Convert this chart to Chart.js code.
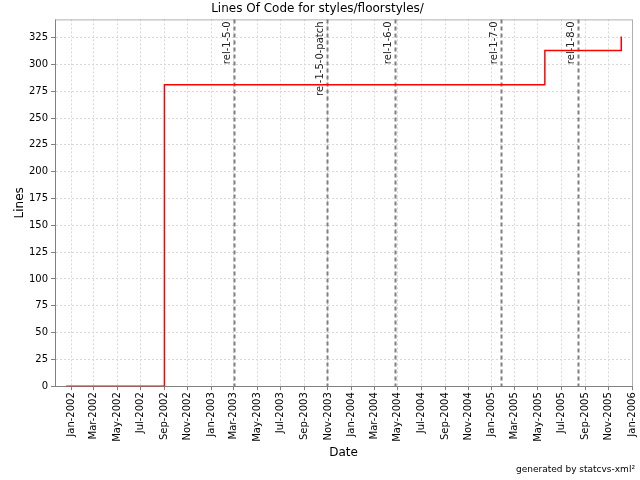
<!DOCTYPE html>
<html>
<head>
<meta charset="utf-8">
<script src="https://cdn.jsdelivr.net/npm/chart.js@4.4.0/dist/chart.umd.min.js"></script>
<style>
  html, body { margin: 0; padding: 0; background: #fff; }
  #wrap { width: 640px; height: 480px; }
</style>
</head>
<body>
<div id="wrap"><canvas id="chartLoc"></canvas></div>
<script>
// Datos de la serie (fecha, líneas)
const locDates = ['2001-12-19', '2002-09-01', '2005-05-19', '2005-12-04'];
const locValues = [0, 281, 313, 326];

// Versiones (líneas verticales)
const releaseNames = ['rel-1-5-0', 'rel-1-5-0-patch', 'rel-1-6-0', 'rel-1-7-0', 'rel-1-8-0'];
const releaseDates = ['2003-02-28', '2003-10-29', '2004-04-23', '2005-01-25', '2005-08-14'];

// Etiquetas del eje X
const tickDates = ['2002-01-01', '2002-03-01', '2002-05-01', '2002-07-01', '2002-09-01', '2002-11-01',
    '2003-01-01', '2003-03-01', '2003-05-01', '2003-07-01', '2003-09-01', '2003-11-01',
    '2004-01-01', '2004-03-01', '2004-05-01', '2004-07-01', '2004-09-01', '2004-11-01',
    '2005-01-01', '2005-03-01', '2005-05-01', '2005-07-01', '2005-09-01', '2005-11-01',
    '2006-01-01'];
const tickLabels = ['Jan-2002', 'Mar-2002', 'May-2002', 'Jul-2002', 'Sep-2002', 'Nov-2002',
    'Jan-2003', 'Mar-2003', 'May-2003', 'Jul-2003', 'Sep-2003', 'Nov-2003',
    'Jan-2004', 'Mar-2004', 'May-2004', 'Jul-2004', 'Sep-2004', 'Nov-2004',
    'Jan-2005', 'Mar-2005', 'May-2005', 'Jul-2005', 'Sep-2005', 'Nov-2005',
    'Jan-2006'];

const FONT = '"DejaVu Sans", sans-serif';

function toDay(s) {
    const p = s.split('-').map(Number);
    return Date.UTC(p[0], p[1] - 1, p[2]) / 864e5;
}

// Dibuja las líneas de versión y el borde del área
const releasesPlugin = {
    id: 'releases',
    beforeDatasetsDraw(chart) {
        const { ctx, chartArea, scales } = chart;
        ctx.save();
        ctx.strokeStyle = '#b0b0b0';
        ctx.lineWidth = 1;
        ctx.beginPath();
        ctx.moveTo(chartArea.left, chartArea.top + 0.5);
        ctx.lineTo(chartArea.right + 0.5, chartArea.top + 0.5);
        ctx.lineTo(chartArea.right + 0.5, chartArea.bottom);
        ctx.stroke();

        releaseDates.forEach((d, i) => {
            const x = Math.round(scales.x.getPixelForValue(toDay(d))) + 0.5;
            ctx.strokeStyle = '#808080';
            ctx.lineWidth = 2;
            ctx.setLineDash([4, 3]);
            ctx.beginPath();
            ctx.moveTo(x, chartArea.top);
            ctx.lineTo(x, chartArea.bottom);
            ctx.stroke();

            ctx.setLineDash([]);
            ctx.save();
            ctx.translate(x - 2, chartArea.top + 2);
            ctx.rotate(-Math.PI / 2);
            ctx.fillStyle = '#222';
            ctx.font = '10px ' + FONT;
            ctx.textAlign = 'right';
            ctx.textBaseline = 'bottom';
            ctx.fillText(releaseNames[i], 0, 0);
            ctx.restore();
        });
        ctx.restore();
    }
};

const ctx = document.getElementById('chartLoc').getContext('2d');
new Chart(ctx, {
    type: 'line',
    data: {
        datasets: [{
            label: 'Lines',
            data: locDates.map((d, i) => ({ x: toDay(d), y: locValues[i] })),
            stepped: true,
            borderColor: '#ff0000',
            borderWidth: 1.5,
            pointRadius: 0,
            fill: false
        }]
    },
    options: {
        responsive: true,
        maintainAspectRatio: false,
        animation: false,
        layout: { padding: { top: 0, right: 5, bottom: 0, left: 0 } },
        scales: {
            x: {
                type: 'linear',
                min: toDay('2001-11-20'),
                max: toDay('2006-01-01'),
                afterBuildTicks: function (scale) {
                    scale.ticks = tickDates.map(d => ({ value: toDay(d) }));
                },
                afterFit: function (scale) {
                    scale.height = 74;
                    scale.paddingRight = 8;
                },
                ticks: {
                    autoSkip: false,
                    minRotation: 90,
                    maxRotation: 90,
                    color: '#000',
                    font: { family: FONT, size: 10 },
                    padding: 2,
                    callback: function (value, index) { return tickLabels[index]; }
                },
                grid: {
                    color: '#d8d8d8',
                    tickColor: '#808080',
                    tickLength: 4,
                    drawOnChartArea: true
                },
                border: { color: '#808080', dash: [2, 2] },
                title: {
                    display: true,
                    text: 'Date',
                    color: '#000',
                    font: { family: FONT, size: 12 },
                    padding: { top: 0, bottom: 0 }
                }
            },
            y: {
                min: 0,
                max: 342,
                afterBuildTicks: function (scale) {
                    const t = [];
                    for (let v = 0; v <= 325; v += 25) t.push({ value: v });
                    scale.ticks = t;
                },
                afterFit: function (scale) { scale.width = 55; },
                ticks: {
                    color: '#000',
                    font: { family: FONT, size: 10 },
                    padding: 3
                },
                grid: {
                    color: '#d8d8d8',
                    tickColor: '#808080',
                    tickLength: 4
                },
                border: { color: '#808080', dash: [2, 2] },
                title: {
                    display: true,
                    text: 'Lines',
                    color: '#000',
                    font: { family: FONT, size: 12 },
                    padding: { top: 13, bottom: 0 }
                }
            }
        },
        plugins: {
            legend: { display: false },
            tooltip: { enabled: false },
            title: {
                display: true,
                text: 'Lines Of Code for styles/floorstyles/',
                color: '#000',
                font: { family: FONT, size: 12, weight: 'normal' },
                padding: { top: 2, bottom: 3 }
            },
            subtitle: {
                display: true,
                position: 'bottom',
                align: 'end',
                text: 'generated by statcvs-xml²',
                color: '#000',
                font: { family: FONT, size: 9 },
                padding: { top: 4, bottom: 5 }
            }
        }
    },
    plugins: [releasesPlugin]
});
</script>
</body>
</html>
